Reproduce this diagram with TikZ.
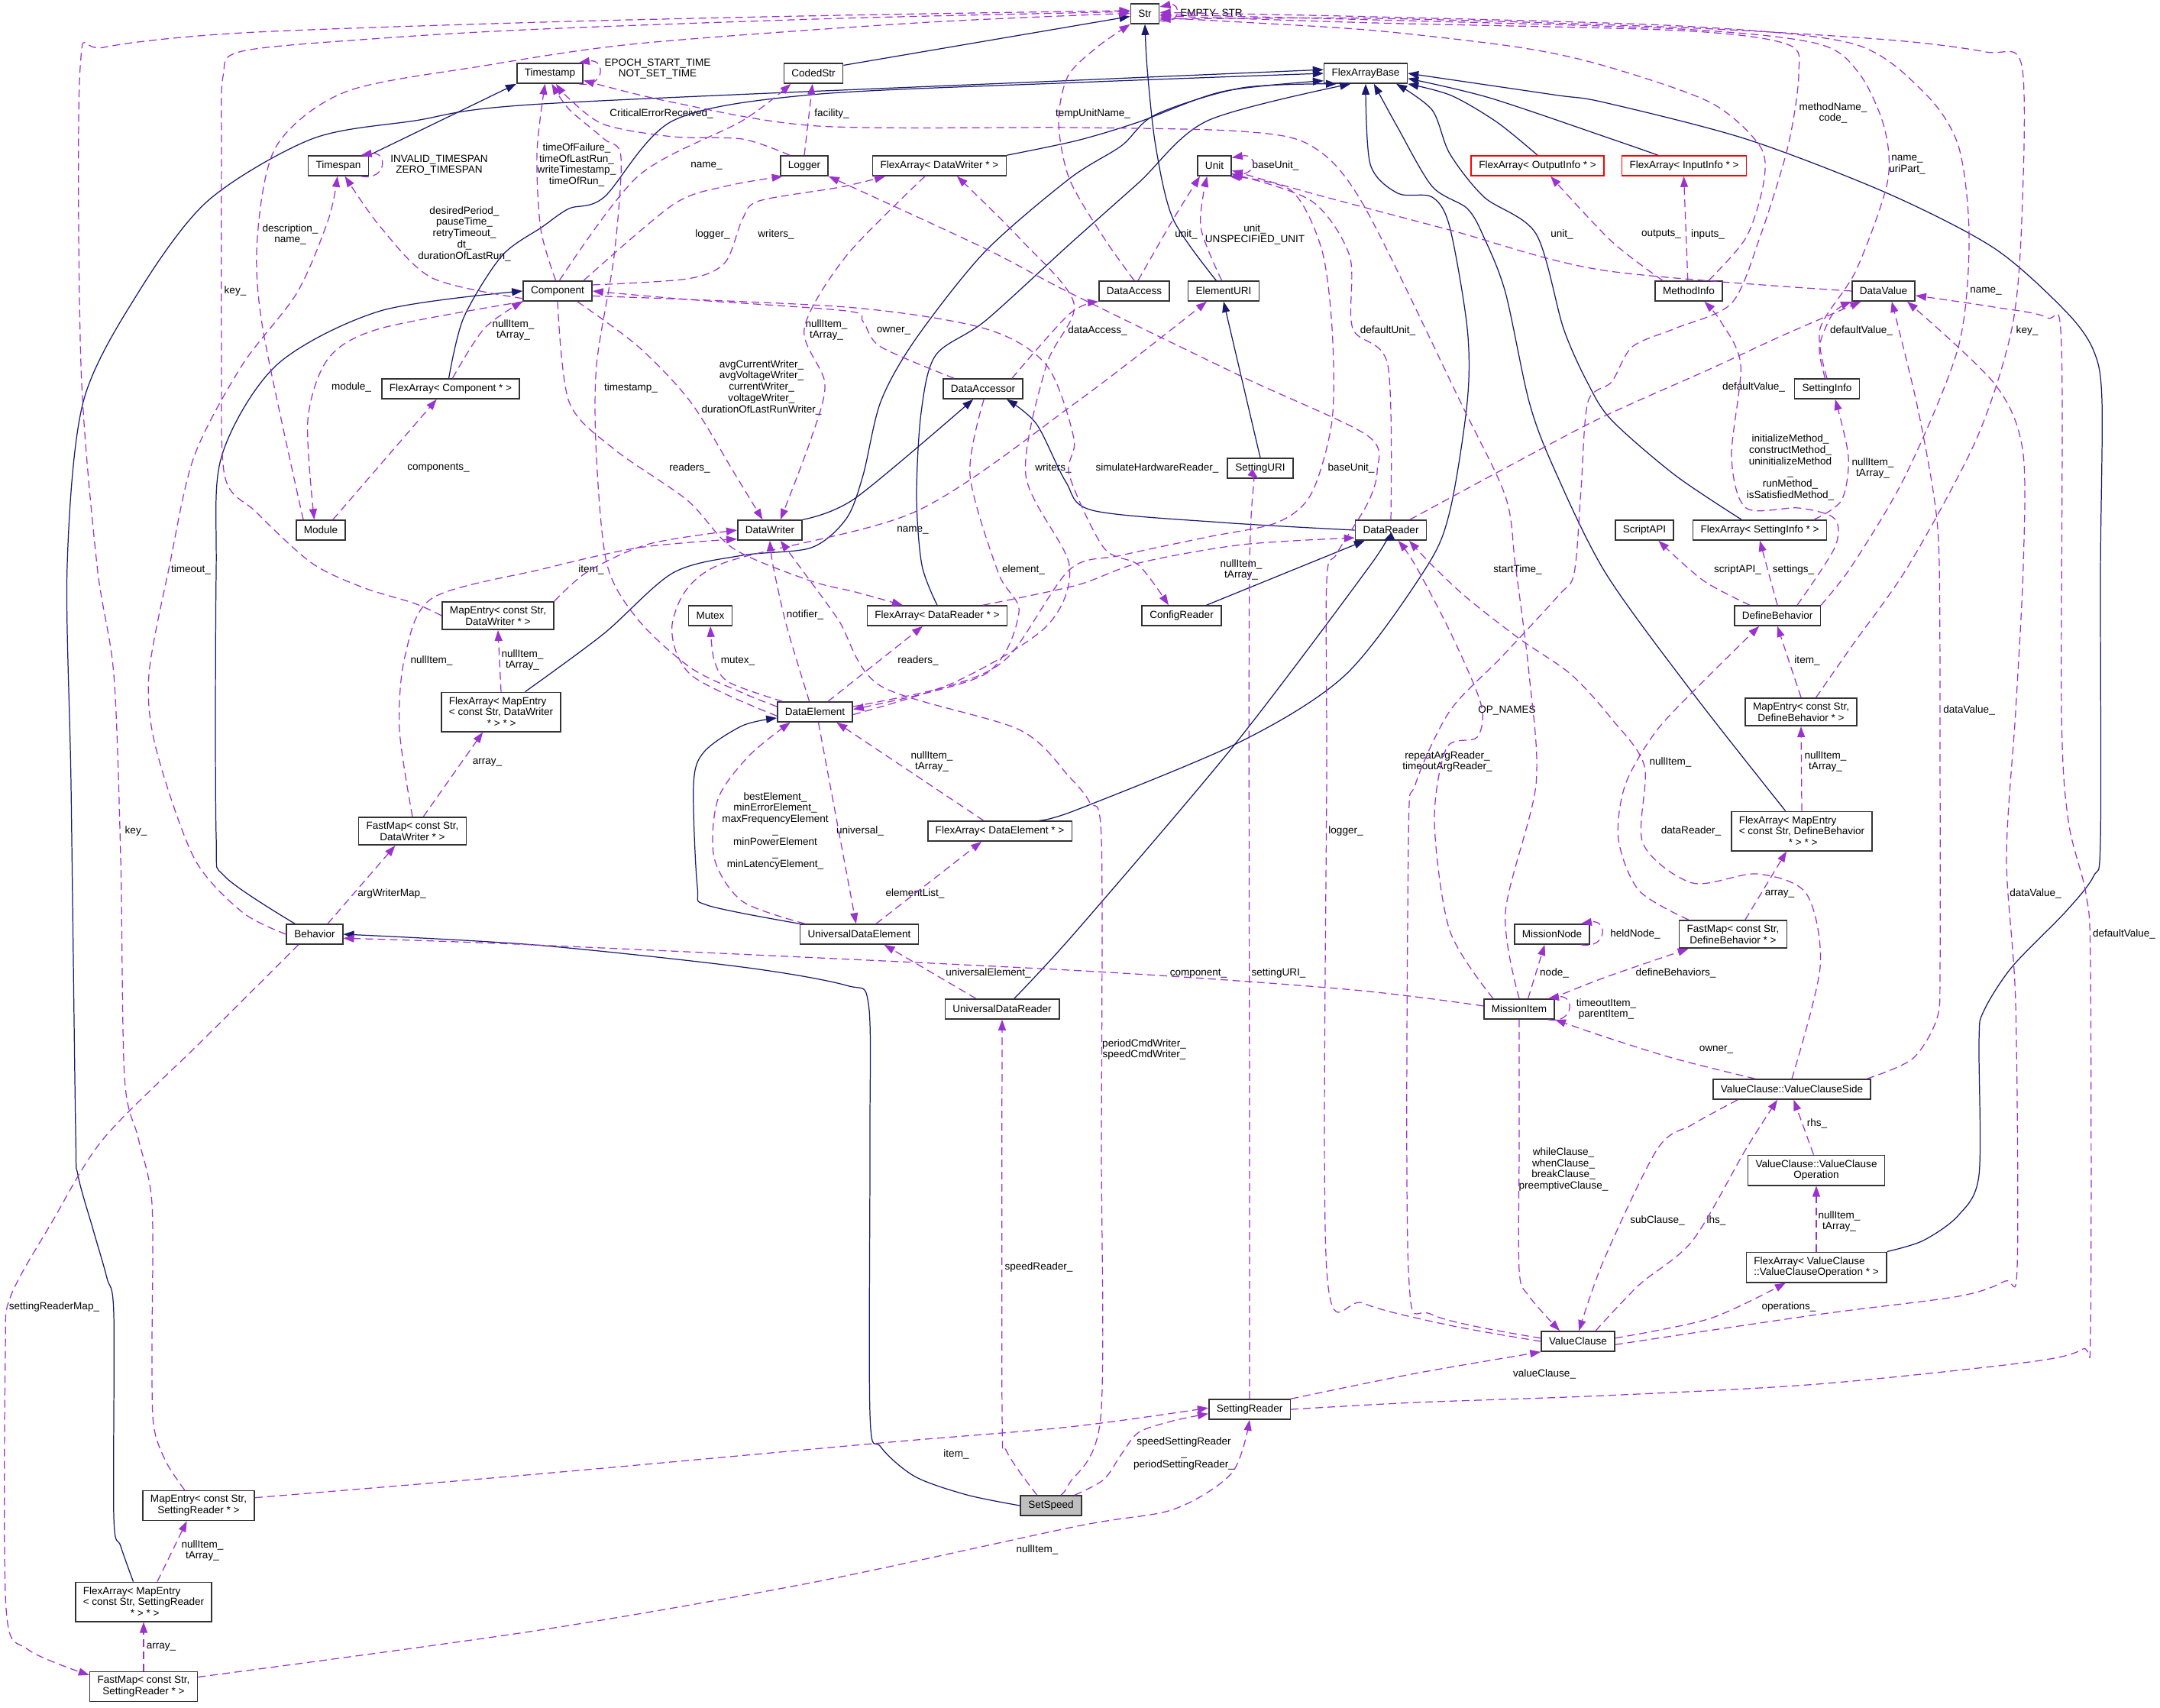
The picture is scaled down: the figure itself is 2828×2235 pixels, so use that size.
\documentclass[tikz,border=0pt]{standalone}
\usepackage{fontspec}
\setmainfont{Liberation Sans}
\usetikzlibrary{arrows.meta}
\definecolor{edgepurple}{HTML}{9A32CD}
\definecolor{edgeblue}{HTML}{191970}
\newcommand{\dgfont}{\fontsize{3.85pt}{4.2pt}\selectfont}

\begin{document}
\begin{tikzpicture}[
  x=0.01cm, y=-0.01cm,
  every node/.style={font=\dgfont},
  cls/.style={draw=black!80, line width=0.45pt, fill=white, inner xsep=0.1cm, inner ysep=0.06cm, minimum height=0.26cm, align=center},
  wrapped/.style={cls, align=left},
  tmpl/.style={cls, draw=red},
  focus/.style={cls, fill=black!25},
  lbl/.style={inner sep=0pt, align=center},
  member/.style={draw=edgepurple, line width=0.35pt, dash pattern=on 0.1cm off 0.06cm, -{Triangle[length=0.14cm, width=0.1cm]}},
  derive/.style={draw=edgeblue, line width=0.35pt, -{Triangle[length=0.14cm, width=0.1cm]}}]

\useasboundingbox (0,0) rectangle (2828,2235);
\fill[white] (0,0) rectangle (2828,2235);

\node[cls] (str) at (1499,18) {Str};
\node[cls] (timestamp) at (720,96) {Timestamp};
\node[cls] (codedstr) at (1065,96) {CodedStr};
\node[cls] (fabase) at (1788,96) {FlexArrayBase};
\node[cls] (timespan) at (443,217) {Timespan};
\node[cls] (logger) at (1053,217) {Logger};
\node[cls] (fadw) at (1230,217) {FlexArray< DataWriter * >};
\node[cls] (unit) at (1590,217) {Unit};
\node[tmpl] (faoi) at (2013,217) {FlexArray< OutputInfo * >};
\node[tmpl] (faii) at (2205,217) {FlexArray< InputInfo * >};
\node[cls] (component) at (730,381) {Component};
\node[cls] (dataaccess) at (1485,381) {DataAccess};
\node[cls] (elementuri) at (1602,381) {ElementURI};
\node[cls] (methodinfo) at (2211,381) {MethodInfo};
\node[cls] (datavalue) at (2466,381) {DataValue};
\node[cls] (fac) at (590,509) {FlexArray< Component * >};
\node[cls] (dataaccessor) at (1287,509) {DataAccessor};
\node[cls] (settinginfo) at (2392,509) {SettingInfo};
\node[cls] (settinguri) at (1650,613) {SettingURI};
\node[cls] (module) at (420,694) {Module};
\node[cls] (datawriter) at (1008,694) {DataWriter};
\node[cls] (datareader) at (1821,694) {DataReader};
\node[cls] (scriptapi) at (2153,694) {ScriptAPI};
\node[cls] (fasi) at (2304,694) {FlexArray< SettingInfo * >};
\node[cls] (medw) at (652,806) {MapEntry< const Str,\\DataWriter * >};
\node[cls] (mutex) at (930,806) {Mutex};
\node[cls] (fadr) at (1227,806) {FlexArray< DataReader * >};
\node[cls] (configreader) at (1547,806) {ConfigReader};
\node[cls] (definebehavior) at (2327,806) {DefineBehavior};
\node[wrapped] (famedw) at (656,932) {FlexArray< MapEntry\\< const Str, DataWriter\\\hspace*{0.5cm}* > * >};
\node[cls] (dataelement) at (1067,932) {DataElement};
\node[cls] (medb) at (2358,932) {MapEntry< const Str,\\DefineBehavior * >};
\node[cls] (fmdw) at (540,1088) {FastMap< const Str,\\DataWriter * >};
\node[cls] (fade) at (1309,1088) {FlexArray< DataElement * >};
\node[wrapped] (famedb) at (2359,1088) {FlexArray< MapEntry\\< const Str, DefineBehavior\\\hspace*{0.65cm}* > * >};
\node[cls] (behavior) at (412,1223) {Behavior};
\node[cls] (ude) at (1125,1223) {UniversalDataElement};
\node[cls] (missionnode) at (2032,1223) {MissionNode};
\node[cls] (fmdb) at (2269,1223) {FastMap< const Str,\\DefineBehavior * >};
\node[cls] (udr) at (1312,1321) {UniversalDataReader};
\node[cls] (missionitem) at (1989,1321) {MissionItem};
\node[cls] (vcside) at (2346,1426) {ValueClause::ValueClauseSide};
\node[cls] (vcop) at (2378,1532) {ValueClause::ValueClause\\Operation};
\node[wrapped] (favcop) at (2378,1659) {FlexArray< ValueClause\\::ValueClauseOperation * >};
\node[cls] (valueclause) at (2066,1756) {ValueClause};
\node[cls] (settingreader) at (1636,1845) {SettingReader};
\node[cls] (mesr) at (260,1971) {MapEntry< const Str,\\SettingReader * >};
\node[focus] (setspeed) at (1376,1971) {SetSpeed};
\node[wrapped] (famesr) at (188,2097) {FlexArray< MapEntry\\< const Str, SettingReader\\\hspace*{0.62cm}* > * >};
\node[cls] (fmsr) at (188,2208) {FastMap< const Str,\\SettingReader * >};

\node[lbl] (tEmptyStr) at (1586,18) {EMPTY\_STR};
\node[lbl] (tEpoch) at (861,90) {EPOCH\_START\_TIME\\NOT\_SET\_TIME};
\node[lbl] (tInvalid) at (575,216) {INVALID\_TIMESPAN\\ZERO\_TIMESPAN};
\node[lbl] (tBaseUnitA) at (1670,217) {baseUnit\_};
\node[lbl] (tCritical) at (866,149) {CriticalErrorReceived\_};
\node[lbl] (tFacility) at (1089,149) {facility\_};
\node[lbl] (tTempUnit) at (1431,149) {tempUnitName\_};
\node[lbl] (tMethodName) at (2400,148) {methodName\_\\code\_};
\node[lbl] (tUriPart) at (2497,216) {name\_\\uriPart\_};
\node[lbl] (tDescription) at (380,307) {description\_\\name\_};
\node[lbl] (tDesired) at (608,306) {desiredPeriod\_\\pauseTime\_\\retryTimeout\_\\dt\_\\durationOfLastRun\_};
\node[lbl] (tTimeOf) at (755,216) {timeOfFailure\_\\timeOfLastRun\_\\writeTimestamp\_\\timeOfRun\_};
\node[lbl] (tNameCoded) at (925,217) {name\_};
\node[lbl] (tLoggerA) at (933,307) {logger\_};
\node[lbl] (tWritersA) at (1016,307) {writers\_};
\node[lbl] (tUnitA) at (1553,307) {unit\_};
\node[lbl] (tUnitB) at (1643,307) {unit\_\\UNSPECIFIED\_UNIT};
\node[lbl] (tUnitC) at (2045,307) {unit\_};
\node[lbl] (tOutputs) at (2175,307) {outputs\_};
\node[lbl] (tInputs) at (2236,307) {inputs\_};
\node[lbl] (tKeyA) at (308,381) {key\_};
\node[lbl] (tNameDefine) at (2600,381) {name\_};
\node[lbl] (tNullComp) at (672,432) {nullItem\_\\tArray\_};
\node[lbl] (tNullWriter) at (1082,432) {nullItem\_\\tArray\_};
\node[lbl] (tOwnerA) at (1170,433) {owner\_};
\node[lbl] (tDataAccess) at (1437,433) {dataAccess\_};
\node[lbl] (tDefaultUnit) at (1817,433) {defaultUnit\_};
\node[lbl] (tDefValA) at (2437,433) {defaultValue\_};
\node[lbl] (tKeyB) at (2654,433) {key\_};
\node[lbl] (tModule) at (460,507) {module\_};
\node[lbl] (tTimestamp) at (826,508) {timestamp\_};
\node[lbl] (tAvg) at (997,507) {avgCurrentWriter\_\\avgVoltageWriter\_\\currentWriter\_\\voltageWriter\_\\durationOfLastRunWriter\_};
\node[lbl] (tDefValB) at (2296,507) {defaultValue\_};
\node[lbl] (tComponents) at (574,613) {components\_};
\node[lbl] (tReadersA) at (903,613) {readers\_};
\node[lbl] (tWritersB) at (1379,613) {writers\_};
\node[lbl] (tSimulate) at (1515,613) {simulateHardwareReader\_};
\node[lbl] (tBaseUnitB) at (1769,613) {baseUnit\_};
\node[lbl] (tInitialize) at (2344,612) {initializeMethod\_\\constructMethod\_\\uninitializeMethod\\\_\\runMethod\_\\isSatisfiedMethod\_};
\node[lbl] (tNullSetting) at (2452,613) {nullItem\_\\tArray\_};
\node[lbl] (tNameElem) at (1195,694) {name\_};
\node[lbl] (tItemA) at (774,746) {item\_};
\node[lbl] (tTimeout) at (250,746) {timeout\_};
\node[lbl] (tElement) at (1340,746) {element\_};
\node[lbl] (tNullReader) at (1625,746) {nullItem\_\\tArray\_};
\node[lbl] (tStartTime) at (1987,746) {startTime\_};
\node[lbl] (tScriptApi) at (2275,746) {scriptAPI\_};
\node[lbl] (tSettings) at (2348,746) {settings\_};
\node[lbl] (tNotifier) at (1054,805) {notifier\_};
\node[lbl] (tMutex) at (966,865) {mutex\_};
\node[lbl] (tReadersB) at (1202,865) {readers\_};
\node[lbl] (tNullFastW) at (565,865) {nullItem\_};
\node[lbl] (tNullEntryW) at (684,864) {nullItem\_\\tArray\_};
\node[lbl] (tItemB) at (2366,865) {item\_};
\node[lbl] (tOpNames) at (1973,930) {OP\_NAMES};
\node[lbl] (tDataValA) at (2578,930) {dataValue\_};
\node[lbl] (tNullElem) at (1220,997) {nullItem\_\\tArray\_};
\node[lbl] (tRepeat) at (1895,997) {repeatArgReader\_\\timeoutArgReader\_};
\node[lbl] (tNullFastB) at (2187,998) {nullItem\_};
\node[lbl] (tNullEntryB) at (2390,997) {nullItem\_\\tArray\_};
\node[lbl] (tArrayW) at (638,998) {array\_};
\node[lbl] (tBest) at (1015,1088) {bestElement\_\\minErrorElement\_\\maxFrequencyElement\\\_\\minPowerElement\\\_\\minLatencyElement\_};
\node[lbl] (tUniversal) at (1126,1088) {universal\_};
\node[lbl] (tLoggerB) at (1762,1088) {logger\_};
\node[lbl] (tDataReader) at (2214,1088) {dataReader\_};
\node[lbl] (tKeyC) at (178,1088) {key\_};
\node[lbl] (tArgWriter) at (513,1170) {argWriterMap\_};
\node[lbl] (tElementList) at (1198,1170) {elementList\_};
\node[lbl] (tArrayB) at (2330,1170) {array\_};
\node[lbl] (tDataValB) at (2665,1170) {dataValue\_};
\node[lbl] (tHeldNode) at (2141,1223) {heldNode\_};
\node[lbl] (tDefValC) at (2781,1223) {defaultValue\_};
\node[lbl] (tUnivElem) at (1294,1274) {universalElement\_};
\node[lbl] (tComponent) at (1569,1274) {component\_};
\node[lbl] (tSettingUri) at (1674,1274) {settingURI\_};
\node[lbl] (tNode) at (2035,1274) {node\_};
\node[lbl] (tDefine) at (2194,1274) {defineBehaviors\_};
\node[lbl] (tTimeoutItem) at (2103,1321) {timeoutItem\_\\parentItem\_};
\node[lbl] (tCmdWriter) at (1498,1374) {periodCmdWriter\_\\speedCmdWriter\_};
\node[lbl] (tOwnerB) at (2247,1374) {owner\_};
\node[lbl] (tRhs) at (2379,1471) {rhs\_};
\node[lbl] (tWhile) at (2047,1531) {whileClause\_\\whenClause\_\\breakClause\_\\preemptiveClause\_};
\node[lbl] (tSubClause) at (2170,1598) {subClause\_};
\node[lbl] (tLhs) at (2247,1598) {lhs\_};
\node[lbl] (tNullOp) at (2408,1599) {nullItem\_\\tArray\_};
\node[lbl] (tSpeedReader) at (1360,1659) {speedReader\_};
\node[lbl] (tOperations) at (2342,1711) {operations\_};
\node[lbl] (tSettingMap) at (71,1711) {settingReaderMap\_};
\node[lbl] (tValueClause) at (2022,1799) {valueClause\_};
\node[lbl] (tItemC) at (1252,1904) {item\_};
\node[lbl] (tSpeedSetting) at (1550,1903) {speedSettingReader\\\_\\periodSettingReader\_};
\node[lbl] (tNullFastS) at (1358,2029) {nullItem\_};
\node[lbl] (tNullEntryS) at (265,2030) {nullItem\_\\tArray\_};
\node[lbl] (tArrayS) at (211,2156) {array\_};

\draw[derive] (codedstr.15) -- (str.190);
\draw[derive] plot[smooth] coordinates {(elementuri.125) (1536,287) (1513,191) (1502,90) (str.south)};
\draw[derive] (timespan.north east) -- (timestamp.south west);
\draw[derive] plot[smooth] coordinates {(fadw.north east) (1410,184) (1490,160) (1600,120) (fabase.190)};
\draw[derive] plot[smooth] coordinates {(faoi.north) (1960,160) (1900,125) (fabase.south east)};
\draw[derive] plot[smooth] coordinates {(faii.158) (2110,182) (1950,128) (fabase.353)};
\draw[derive] plot[smooth] coordinates {(fac.100) (607,416) (657,335) (710,297) (745,273) (791,258) (881,158) (1062,124) (1410,108) (fabase.west)};
\draw[derive] plot[smooth] coordinates {(famedw.40) (790,830) (881,750) (972,727) (1062,717) (1108,679) (1130,622) (1153,526) (1198,445) (1289,330) (1400,234) (1468,191) (1513,150) (1626,115) (fabase.200)};
\draw[derive] plot[smooth] coordinates {(famesr.117) (158,2024) (149,1986) (149,1721) (140,1673) (122,1610) (102,1538) (99,1480) (93,1027) (88,740) (109,526) (181,383) (272,263) (408,182) (543,158) (710,136) (1410,105) (fabase.175)};
\draw[derive] plot[smooth] coordinates {(fadr.north) (1207,740) (1200,650) (1206,540) (1225,465) (1290,420) (1400,320) (1491,239) (1581,158) (fabase.215)};
\draw[derive] plot[smooth] coordinates {(fade.15) (1410,1060) (1626,970) (1762,883) (1866,745) (1898,670) (1921,526) (1921,430) (1898,297) (1875,258) (1830,253) (1794,215) (fabase.south)};
\draw[derive] plot[smooth] coordinates {(fasi.150) (2193,622) (2110,550) (2079,502) (2047,430) (2011,306) (1943,258) (1898,201) (1875,144) (fabase.341)};
\draw[derive] plot[smooth] coordinates {(famedb.129) (2216,907) (2102,750) (2034,612) (2002,526) (1971,383) (1943,311) (1921,273) (1875,244) (1830,167) (fabase.308)};
\draw[derive] plot[smooth] coordinates {(favcop.north east) (2518,1624) (2564,1591) (2591,1538) (2591,1362) (2597,1324) (2634,1266) (2704,1194) (2741,1147) (2750,1099) (2750,750) (2752,526) (2741,459) (2704,407) (2611,325) (2471,253) (2286,182) (2100,134) (2034,124) (fabase.east)};
\draw[derive] plot[smooth] coordinates {(behavior.152) (294,1147) (283,1094) (283,750) (290,598) (362,478) (498,407) (component.west)};
\draw[derive] plot[smooth] coordinates {(setspeed.west) (1266,1957) (1198,1933) (1153,1894) (1139,1851) (1139,1490) (1137,1314) (1108,1290) (972,1266) (700,1237) (behavior.east)};
\draw[derive] plot[smooth] coordinates {(datawriter.north east) (1120,652) (dataaccessor.227)};
\draw[derive] plot[smooth] coordinates {(datareader.west) (1600,684) (1430,668) (1395,630) (1357,555) (dataaccessor.336)};
\draw[derive] (configreader.23) -- (datareader.202);
\draw[derive] plot[smooth] coordinates {(udr.41) (1410,1218) (1617,974) (1794,740) (datareader.235)};
\draw[derive] plot[smooth] coordinates {(ude.170) (926,1185) (913,1161) (908,1027) (922,984) (972,950) (dataelement.189)};
\draw[derive] (settinguri.north) -- (elementuri.south);

\draw[member] (str.-25) .. controls +(28,6) and +(28,-6) .. (str.25);
\draw[member] (timestamp.-20) .. controls +(35,6) and +(35,-6) .. (timestamp.20);
\draw[member] (timespan.-25) .. controls +(35,6) and +(35,-6) .. (timespan.25);
\draw[member] (unit.-25) .. controls +(35,6) and +(35,-6) .. (unit.25);
\draw[member] (missionnode.-20) .. controls +(35,6) and +(35,-6) .. (missionnode.20);
\draw[member] (missionitem.-20) .. controls +(35,6) and +(35,-6) .. (missionitem.20);

\draw[member] plot[smooth] coordinates {(logger.144) (972,182) (881,179) (791,163) (745,129) (timestamp.-60)};
\draw[member] plot[smooth] coordinates {(logger.north) (1058,160) (codedstr.265)};
\draw[member] plot[smooth] coordinates {(dataaccess.north) (1445,311) (1400,234) (1386,160) (1398,100) (1436,62) (str.south west)};
\draw[member] plot[smooth] coordinates {(module.149) (344,430) (337,311) (362,191) (453,120) (634,86) (836,57) (1200,30) (str.178)};
\draw[member] plot[smooth] coordinates {(medw.west) (543,790) (475,769) (408,737) (335,670) (294,622) (290,450) (290,200) (292,100) (317,67) (500,50) (710,38) (1100,24) (str.172)};
\draw[member] plot[smooth] coordinates {(mesr.132) (217,1913) (201,1865) (199,1769) (199,1576) (181,1490) (163,1410) (158,1123) (149,883) (127,740) (106,478) (105,88) (136,62) (317,43) (710,29) (1100,20) (str.168)};
\draw[member] plot[smooth] coordinates {(behavior.west) (317,1194) (254,1123) (204,979) (195,883) (222,740) (254,598) (317,478) (389,383) (430,287) (timespan.265)};
\draw[member] plot[smooth] coordinates {(component.192) (566,364) (498,297) (timespan.-58)};
\draw[member] plot[smooth] coordinates {(component.197) (498,430) (430,469) (403,550) (module.122)};
\draw[member] plot[smooth] coordinates {(fac.80) (634,430) (component.south west)};
\draw[member] (module.41) -- (fac.217);
\draw[member] plot[smooth] coordinates {(component.100) (708,300) (703,200) (timestamp.245)};
\draw[member] plot[smooth] coordinates {(component.80) (836,230) (972,158) (codedstr.205)};
\draw[member] plot[smooth] coordinates {(component.22) (881,268) (949,244) (logger.206)};
\draw[member] plot[smooth] coordinates {(component.10) (900,365) (949,344) (972,287) (994,263) (1100,245) (fadw.191)};
\draw[member] plot[smooth] coordinates {(fadw.216) (1108,335) (1053,430) (1080,502) (1062,574) (datawriter.45)};
\draw[member] plot[smooth] coordinates {(component.-28) (836,454) (904,526) (963,622) (datawriter.125)};
\draw[member] plot[smooth] coordinates {(component.south) (745,526) (804,588) (900,655) (960,718) (1060,760) (1120,775) (fadr.163)};
\draw[member] plot[smooth] coordinates {(dataaccessor.160) (1153,454) (1130,421) (1108,407) (900,392) (component.east)};
\draw[member] plot[smooth] coordinates {(dataaccessor.20) (1400,411) (dataaccess.south west)};
\draw[member] plot[smooth] coordinates {(dataaccess.70) (1536,287) (unit.216)};
\draw[member] plot[smooth] coordinates {(elementuri.100) (1572,297) (unit.235)};
\draw[member] plot[smooth] coordinates {(datavalue.west) (2100,354) (1898,301) (1717,253) (unit.-15)};
\draw[member] plot[smooth] coordinates {(dataelement.8) (1243,898) (1320,860) (1400,746) (1468,727) (1581,703) (1672,684) (1717,646) (1744,550) (1744,430) (1730,325) (1690,249) (unit.-35)};
\draw[member] plot[smooth] coordinates {(datareader.north) (1817,478) (1771,430) (1767,335) (1717,263) (unit.-25)};
\draw[member] plot[smooth] coordinates {(valueclause.west) (1898,1735) (1785,1706) (1737,1663) (1737,1000) (1737,760) (1750,725) (1790,660) (1803,617) (1790,570) (1626,493) (1400,383) (1289,325) (logger.south east)};
\draw[member] plot[smooth] coordinates {(valueclause.175) (1875,1721) (1844,1663) (1844,1100) (1853,1027) (1898,931) (1966,860) (2040,780) (2061,750) (2070,640) (2079,526) (2110,500) (2137,454) (2193,430) (2267,397) (2304,311) (2341,191) (2355,96) (2340,58) (2200,40) (1800,30) (str.-8)};
\draw[member] plot[smooth] coordinates {(methodinfo.28) (2286,311) (2309,239) (2304,191) (2239,134) (2100,86) (1989,62) (1800,40) (1626,29) (str.-15)};
\draw[member] plot[smooth] coordinates {(settinginfo.north) (2383,430) (2430,354) (2471,239) (2467,167) (2434,96) (2379,57) (2200,38) (1800,26) (str.-3)};
\draw[member] plot[smooth] coordinates {(settinginfo.100) (2382,454) (2400,410) (datavalue.south west)};
\draw[member] plot[smooth] coordinates {(definebehavior.north east) (2425,740) (2495,622) (2564,454) (2578,311) (2564,191) (2518,120) (2425,57) (2200,34) (1800,22) (str.5)};
\draw[member] plot[smooth] coordinates {(medb.44) (2425,845) (2499,740) (2588,574) (2634,430) (2647,287) (2647,86) (2600,68) (2471,52) (2200,36) (1800,24) (str.-20)};
\draw[member] plot[smooth] coordinates {(methodinfo.158) (2110,316) (faoi.-39)};
\draw[member] (methodinfo.95) -- (faii.-92);
\draw[member] plot[smooth] coordinates {(definebehavior.28) (2402,717) (2402,679) (2355,665) (2286,665) (2267,598) (2279,478) (2253,421) (methodinfo.-34)};
\draw[member] plot[smooth] coordinates {(fasi.11) (2411,655) (2420,598) (settinginfo.-52)};
\draw[member] plot[smooth] coordinates {(definebehavior.159) (2230,760) (scriptapi.-37)};
\draw[member] (definebehavior.north) -- (fasi.south);
\draw[member] plot[smooth] coordinates {(datareader.29) (1989,603) (2100,545) (2239,483) (2332,440) (datavalue.205)};
\draw[member] plot[smooth] coordinates {(vcside.8) (2504,1386) (2536,1333) (2540,1266) (2540,1000) (2539,740) (2532,650) (2509,526) (datavalue.-52)};
\draw[member] plot[smooth] coordinates {(valueclause.-5) (2379,1721) (2564,1697) (2625,1677) (2641,1658) (2639,1314) (2627,1123) (2639,931) (2649,740) (2648,588) (2611,502) (datavalue.-24)};
\draw[member] plot[smooth] coordinates {(settingreader.east) (1853,1836) (2100,1827) (2379,1812) (2657,1783) (2727,1766) (2737,1740) (2737,1266) (2731,1170) (2708,1075) (2699,931) (2699,454) (2680,416) (2611,402) (datavalue.-8)};
\draw[member] (medb.north) -- (definebehavior.south);
\draw[member] (famedb.north) -- (medb.south);
\draw[member] (fmdb.50) -- (famedb.233);
\draw[member] plot[smooth] coordinates {(fmdb.162) (2146,1166) (2119,1099) (2128,1027) (2170,955) (2239,883) (definebehavior.210)};
\draw[member] plot[smooth] coordinates {(vcside.north) (2383,1266) (2365,1170) (2300,1144) (2216,1156) (2151,1104) (2153,1003) (2110,941) (2057,883) (1989,836) (1921,783) (1875,740) (datareader.-30)};
\draw[member] plot[smooth] coordinates {(missionitem.158) (1898,1218) (1878,1075) (1894,979) (1934,965) (1939,922) (1900,830) (1853,740) (datareader.-55)};
\draw[member] plot[smooth] coordinates {(missionitem.north) (1971,1194) (2011,1027) (2002,883) (1984,740) (1971,650) (1912,526) (1785,268) (1717,191) (1626,172) (1410,167) (1071,165) (881,134) (timestamp.-12)};
\draw[member] plot[smooth] coordinates {(missionitem.175) (1762,1295) (1400,1270) (700,1237) (behavior.-8)};
\draw[member] plot[smooth] coordinates {(settingreader.north) (1636,1500) (1636,740) (settinguri.260)};
\draw[member] (missionitem.50) -- (missionnode.235);
\draw[member] plot[smooth] coordinates {(missionitem.18) (2100,1280) (fmdb.198)};
\draw[member] plot[smooth] coordinates {(vcside.164) (2193,1386) (2100,1357) (missionitem.south east)};
\draw[member] (vcop.100) -- (vcside.-80);
\draw[member] plot[smooth] coordinates {(vcside.191) (2216,1472) (2170,1504) (2100,1649) (valueclause.85)};
\draw[member] plot[smooth] coordinates {(valueclause.31) (2146,1682) (2216,1624) (2286,1504) (vcside.216)};
\draw[member] plot[smooth] coordinates {(missionitem.south) (1989,1500) (1989,1663) (2002,1697) (valueclause.150)};
\draw[member] (favcop.north) -- (vcop.south);
\draw[member] plot[smooth] coordinates {(valueclause.5) (2239,1726) (favcop.207)};
\draw[member] plot[smooth] coordinates {(settingreader.north east) (1853,1798) (valueclause.south west)};
\draw[member] plot[smooth] coordinates {(setspeed.24) (1445,1937) (1468,1904) (1491,1875) (1536,1860) (settingreader.186)};
\draw[member] plot[smooth] coordinates {(fmsr.10) (700,2135) (1062,2072) (1410,1998) (1536,1976) (1613,1928) (settingreader.south)};
\draw[member] plot[smooth] coordinates {(mesr.8) (700,1930) (1153,1889) (1400,1868) (settingreader.178)};
\draw[member] plot[smooth] coordinates {(setspeed.47) (1400,1942) (1441,1856) (1442,1500) (1442,1099) (1427,1051) (1400,1017) (1334,955) (1153,898) (1098,812) (1053,750) (datawriter.-45)};
\draw[member] plot[smooth] coordinates {(setspeed.143) (1318,1900) (1312,1850) (udr.south)};
\draw[member] (udr.158) -- (ude.-23);
\draw[member] (ude.32) -- (fade.210);
\draw[member] (dataelement.-72) -- (ude.107);
\draw[member] plot[smooth] coordinates {(ude.169) (972,1180) (935,1123) (940,1046) (981,989) (dataelement.203)};
\draw[member] (fade.147) -- (dataelement.-26);
\draw[member] plot[smooth] coordinates {(dataelement.162) (954,893) (935,864) (mutex.south)};
\draw[member] plot[smooth] coordinates {(dataelement.118) (1030,820) (1012,740) (datawriter.south)};
\draw[member] (dataelement.39) -- (fadr.216);
\draw[member] plot[smooth] coordinates {(dataelement.172) (972,907) (904,874) (836,812) (795,740) (781,600) (781,478) (804,335) (813,206) (791,182) (745,143) (timestamp.-80)};
\draw[member] plot[smooth] coordinates {(dataelement.186) (904,883) (881,812) (940,740) (1198,670) (1410,526) (elementuri.212)};
\draw[member] plot[smooth] coordinates {(dataaccessor.-85) (1270,622) (1307,750) (1334,802) (1289,883) (dataelement.4)};
\draw[member] plot[smooth] coordinates {(dataelement.-4) (1250,893) (1370,820) (1400,740) (1343,622) (1370,478) (1406,397) (1334,311) (fadw.-31)};
\draw[member] plot[smooth] coordinates {(component.-8) (1108,402) (1289,430) (1370,478) (1406,574) (1400,622) (1445,717) (1491,740) (configreader.141)};
\draw[member] plot[smooth] coordinates {(fadr.13) (1410,766) (1491,737) (1626,713) (datareader.192)};
\draw[member] plot[smooth] coordinates {(medw.north east) (770,748) (850,712) (datawriter.west)};
\draw[member] plot[smooth] coordinates {(fmdw.north) (523,955) (530,860) (566,783) (710,745) (836,717) (datawriter.195)};
\draw[member] (famedw.north) -- (medw.south);
\draw[member] (fmdw.53) -- (famedw.228);
\draw[member] (behavior.39) -- (fmdw.220);
\draw[member] plot[smooth] coordinates {(behavior.213) (264,1363) (136,1490) (68,1600) (14,1697) (7,1769) (8,2106) (36,2159) (fmsr.168)};
\draw[member] (famesr.56) -- (mesr.233);
\draw[member] (fmsr.north) -- (famesr.south);
\end{tikzpicture}
\end{document}
